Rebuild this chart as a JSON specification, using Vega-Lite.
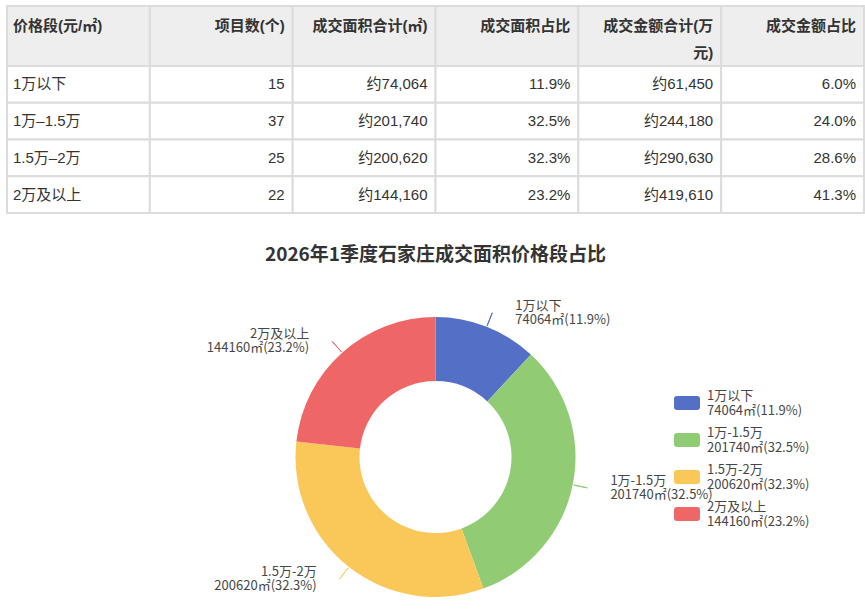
{
  "$schema": "https://vega.github.io/schema/vega-lite/v6.json",
  "padding": {"left": 6, "top": 5, "right": 2, "bottom": 0},
  "background": "white",
  "config": {"view": {"stroke": null}},
  "datasets": {
    "rows": [
      {"价格段(元/㎡)": "1万以下", "项目数(个)": 15, "成交面积合计(㎡)": "约74,064", "成交面积占比": "11.9%", "成交金额合计(万元)": "约61,450", "成交金额占比": "6.0%", "面积": 74064, "金额": 61450, "图例": "1万以下\n74064㎡(11.9%)"},
      {"价格段(元/㎡)": "1万–1.5万", "项目数(个)": 37, "成交面积合计(㎡)": "约201,740", "成交面积占比": "32.5%", "成交金额合计(万元)": "约244,180", "成交金额占比": "24.0%", "面积": 201740, "金额": 244180, "图例": "1万-1.5万\n201740㎡(32.5%)"},
      {"价格段(元/㎡)": "1.5万–2万", "项目数(个)": 25, "成交面积合计(㎡)": "约200,620", "成交面积占比": "32.3%", "成交金额合计(万元)": "约290,630", "成交金额占比": "28.6%", "面积": 200620, "金额": 290630, "图例": "1.5万-2万\n200620㎡(32.3%)"},
      {"价格段(元/㎡)": "2万及以上", "项目数(个)": 22, "成交面积合计(㎡)": "约144,160", "成交面积占比": "23.2%", "成交金额合计(万元)": "约419,610", "成交金额占比": "41.3%", "面积": 144160, "金额": 419610, "图例": "2万及以上\n144160㎡(23.2%)"}
    ],
    "columns": [
      {"列": "价格段(元/㎡)", "表头": "价格段(元/㎡)"},
      {"列": "项目数(个)", "表头": "项目数(个)"},
      {"列": "成交面积合计(㎡)", "表头": "成交面积合计(㎡)"},
      {"列": "成交面积占比", "表头": "成交面积占比"},
      {"列": "成交金额合计(万元)", "表头": "成交金额合计(万\n元)"},
      {"列": "成交金额占比", "表头": "成交金额占比"}
    ]
  },
  "bounds": "full",
  "spacing": 32,
  "vconcat": [
    {
      "bounds": "flush",
      "spacing": 0,
      "vconcat": [
        {
          "width": 857,
          "height": 60,
          "data": {"name": "columns"},
          "encoding": {
            "x": {"field": "列", "type": "nominal", "sort": null, "axis": null, "scale": {"paddingInner": 0, "paddingOuter": 0}}
          },
          "layer": [
            {"mark": {"type": "rect", "fill": "#eeeeee", "stroke": "#dcdcdc", "strokeWidth": 2}},
            {
              "mark": {"type": "text", "align": "left", "baseline": "top", "dx": 6, "dy": -17, "fontSize": 15, "fontWeight": "bold", "font": "Liberation Sans, Noto Sans CJK SC", "color": "#333333", "lineBreak": "\n", "lineHeight": 27},
              "encoding": {
                "x": {"field": "列", "type": "nominal", "sort": null, "axis": null, "bandPosition": 0},
                "text": {"condition": {"test": "datum['列'] === '价格段(元/㎡)'", "field": "表头"}, "value": ""}
              }
            },
            {
              "mark": {"type": "text", "align": "right", "baseline": "top", "dx": -8, "dy": -17, "fontSize": 15, "fontWeight": "bold", "font": "Liberation Sans, Noto Sans CJK SC", "color": "#333333", "lineBreak": "\n", "lineHeight": 27},
              "encoding": {
                "x": {"field": "列", "type": "nominal", "sort": null, "axis": null, "bandPosition": 1},
                "text": {"condition": {"test": "datum['列'] !== '价格段(元/㎡)'", "field": "表头"}, "value": ""}
              }
            }
          ]
        },
        {
          "width": 857,
          "height": 147,
          "data": {"name": "rows"},
          "transform": [{"fold": ["价格段(元/㎡)", "项目数(个)", "成交面积合计(㎡)", "成交面积占比", "成交金额合计(万元)", "成交金额占比"], "as": ["列", "值"]}],
          "encoding": {
            "x": {"field": "列", "type": "nominal", "sort": null, "axis": null, "scale": {"paddingInner": 0, "paddingOuter": 0}},
            "y": {"field": "价格段(元/㎡)", "type": "nominal", "sort": null, "axis": null, "scale": {"paddingInner": 0, "paddingOuter": 0}}
          },
          "layer": [
            {"mark": {"type": "rect", "fill": "#ffffff", "stroke": "#dcdcdc", "strokeWidth": 2}},
            {
              "mark": {"type": "text", "align": "left", "baseline": "middle", "dx": 6, "fontSize": 15, "font": "Liberation Sans, Noto Sans CJK SC", "color": "#333333"},
              "encoding": {
                "x": {"field": "列", "type": "nominal", "sort": null, "axis": null, "bandPosition": 0},
                "text": {"condition": {"test": "datum['列'] === '价格段(元/㎡)'", "field": "值"}, "value": ""}
              }
            },
            {
              "mark": {"type": "text", "align": "right", "baseline": "middle", "dx": -8, "fontSize": 15, "font": "Liberation Sans, Noto Sans CJK SC", "color": "#333333"},
              "encoding": {
                "x": {"field": "列", "type": "nominal", "sort": null, "axis": null, "bandPosition": 1},
                "text": {"condition": {"test": "datum['列'] !== '价格段(元/㎡)'", "field": "值"}, "value": ""}
              }
            }
          ]
        }
      ]
    },
    {
      "width": 857,
      "height": 318,
      "title": {"text": "2026年1季度石家庄成交面积价格段占比", "fontSize": 19, "fontWeight": "bold", "font": "Noto Sans CJK SC", "color": "#333333", "anchor": "middle", "frame": "group", "baseline": "alphabetic", "offset": 18},
      "data": {"name": "rows"},
      "encoding": {
        "theta": {"field": "面积", "type": "quantitative", "stack": "normalize"},
        "order": {"field": "金额", "type": "quantitative"}
      },
      "layer": [
        {
          "mark": {"type": "arc", "innerRadius": 76, "outerRadius": 140},
          "encoding": {
            "color": {
              "field": "图例", "type": "nominal", "sort": null,
              "scale": {"range": ["#5470c6", "#91cc75", "#fac858", "#ee6666"]},
              "legend": {
                "orient": "none", "legendX": 667, "legendY": 384, "title": null,
                "symbolType": "M-0.77,-0.54L0.77,-0.54Q1,-0.54 1,-0.31L1,0.31Q1,0.54 0.77,0.54L-0.77,0.54Q-1,0.54 -1,0.31L-1,-0.31Q-1,-0.54 -0.77,-0.54Z",
                "symbolSize": 676, "symbolStrokeWidth": 0, "symbolOpacity": 1,
                "labelFont": "Noto Sans CJK SC", "labelFontSize": 13, "labelColor": "#464646", "labelBaseline": "bottom",
                "labelOffset": 7, "labelLimit": 300, "rowPadding": 9, "padding": 0,
                "labelExpr": "split(datum.label, '\\n')"
              }
            }
          }
        },
        {
          "mark": {"type": "arc", "innerRadius": 141, "outerRadius": 155, "padAngle": 3, "filled": false, "strokeWidth": 1},
          "encoding": {
            "stroke": {"field": "图例", "type": "nominal", "sort": null, "scale": {"range": ["#5470c6", "#91cc75", "#fac858", "#ee6666"]}, "legend": null}
          }
        },
        {
          "mark": {"type": "text", "radius": 155, "dx": 23, "align": "left", "baseline": "bottom", "fontSize": 13, "lineHeight": 14, "lineBreak": "\n", "font": "Noto Sans CJK SC", "color": "#464646"},
          "encoding": {
            "text": {"condition": {"test": "datum['面积_start'] + datum['面积_end'] < 1", "field": "图例"}, "value": ""}
          }
        },
        {
          "mark": {"type": "text", "radius": 155, "dx": -23, "align": "right", "baseline": "bottom", "fontSize": 13, "lineHeight": 14, "lineBreak": "\n", "font": "Noto Sans CJK SC", "color": "#464646"},
          "encoding": {
            "text": {"condition": {"test": "datum['面积_start'] + datum['面积_end'] >= 1", "field": "图例"}, "value": ""}
          }
        }
      ]
    }
  ]
}
